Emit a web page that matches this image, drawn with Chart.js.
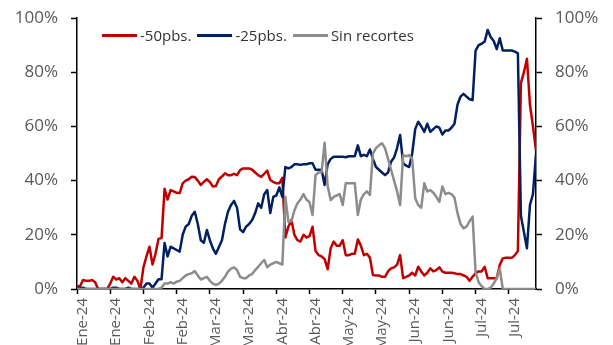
<!DOCTYPE html>
<html>
<head>
<meta charset="utf-8">
<script src="https://cdn.jsdelivr.net/npm/chart.js@4.4.1/dist/chart.umd.min.js"></script>
<style>
    html, body { margin: 0; padding: 0; background: #fff; overflow: hidden; }
    #wrap { position: relative; width: 613px; height: 345px; }
    #legend {
        position: absolute; left: 102px; top: 25px;
        display: flex; align-items: center;
        font-family: 'Open Sans', sans-serif; font-size: 15px; color: #333;
    }
    .item { display: flex; align-items: center; margin-right: 6px; }
    .key { display: inline-block; width: 35px; height: 3px; margin-right: 3px; }
</style>
</head>
<body>
<div id="wrap">
    <canvas id="chart" width="613" height="345"></canvas>
    <div id="legend"></div>
</div>
<script>
// one point per business day, Jan-Jul 2024; a tick every 11 points
const tickStep = 11;
const tickLabels = ['Ene-24', 'Ene-24', 'Feb-24', 'Feb-24', 'Mar-24', 'Mar-24', 'Abr-24',
    'Abr-24', 'May-24', 'May-24', 'Jun-24', 'Jun-24', 'Jul-24', 'Jul-24'];

const seriesNames = ['-50pbs.', '-25pbs.', 'Sin recortes'];
const seriesColors = ['#c00000', '#002060', '#8c8c8c'];

const cut50 = [
    1, 1, 3.3, 3, 3, 3.3, 2.5, 0, 0, 0,
    0, 2, 4.5, 3.5, 4, 2.5, 4, 3, 2, 4.5,
    3, 0, 8, 12, 15.6, 9, 13, 18.5, 18.8, 37,
    33, 36.5, 36, 35.5, 35.4, 39, 40, 40.5, 41.4, 41.3,
    40, 38.4, 39.5, 40.5, 39.5, 37.8, 38, 40.5, 41.5, 42.7,
    42, 42, 42.5, 42, 43.9, 44.5, 44.5, 44.5, 44, 43,
    42, 41.4, 42.5, 43.7, 40.2, 39.5, 39, 39, 41, 19,
    23, 25.5, 20, 18, 17.5, 20, 19, 19.5, 23, 14,
    12.5, 12, 11, 7.3, 15, 17.5, 16, 16, 18, 12.5,
    12.5, 13, 13, 18.3, 16, 12.5, 13, 11.5, 5.2, 5,
    5, 4.5, 4.5, 6.5, 7.6, 8, 9, 12.5, 4, 4.5,
    5, 6, 5, 8.2, 6.5, 5, 6, 7.6, 6.5, 7,
    8, 6.4, 6, 6, 6, 5.8, 5.5, 5.5, 5, 4.5,
    3, 4.5, 5.8, 6.5, 6.5, 8.2, 4, 4, 4, 4,
    8.9, 11.3, 11.5, 11.5, 11.5, 12.5, 14, 76, 80, 85,
    68, 60, 51
];

const cut25 = [
    0, 0.5, 0.5, 0, 0, 0, 0, 0, 0, 0,
    0, 0, 0.5, 0.5, 0, 0, 0, 0.5, 0, 0,
    0, 0, 0.5, 2, 2, 0.5, 2, 3.6, 3.6, 17,
    12, 15.6, 15, 14.4, 13.8, 20, 23, 24, 27, 28.5,
    24, 18, 17, 21.8, 18, 15, 13, 15.5, 18, 24,
    28.5, 31, 32.5, 30, 22, 21, 23, 24, 25.5, 28,
    31.6, 30, 35, 36.5, 28, 34, 34.5, 37.5, 34, 45,
    44.5, 45, 46, 46, 45.8, 46, 46, 46.4, 46.4, 44,
    44, 44, 38.4, 46, 48, 48.8, 48.8, 48.8, 48.8, 48.6,
    49, 49, 49, 53, 49, 49.5, 49, 51.5, 48, 45,
    44, 43, 42, 43, 47, 48.5, 52, 56.8, 46.4, 45.5,
    45, 50, 59, 61.7, 60, 58, 61, 58, 59, 60,
    59.5, 57, 58.5, 58.5, 59.5, 61, 68, 71, 72, 71,
    70, 69.7, 88, 90, 90.5, 91.3, 95.6, 93, 91.5, 88.5,
    92.5, 88, 88, 88, 88, 87.6, 87, 27, 21, 15,
    31, 35, 50
];

const noCut = [
    0, 0, 0, 0, 0, 0, 0, 0, 0, 0,
    0, 0, 0, 0, 0, 0, 0, 0, 0, 0,
    0, 0, 0, 0, 0, 0, 0, 0, 0.5, 2,
    2, 2.5, 2, 2.7, 3, 4, 5, 5.5, 5.8, 6.6,
    5, 3.5, 4, 4.5, 3, 2, 1.5, 2, 3, 4.5,
    6.4, 7.5, 8, 7, 4.5, 4, 4, 5, 5.5, 7,
    8.2, 9.5, 10.7, 8, 9, 9.5, 10, 9.5, 9, 34,
    24.8, 25, 29, 31.6, 33, 35, 33, 32, 27.3, 42,
    43, 43, 54, 38, 32.8, 34, 34.5, 35, 31, 39,
    39, 39, 39, 27.3, 33, 35, 36, 34.7, 50, 52,
    53, 53.8, 52, 48, 44, 40, 36, 31, 49.4, 49,
    49.4, 48, 33.5, 31, 30, 39, 36, 36.5, 35.5, 34,
    32.2, 37.8, 35, 35.5, 35, 33.7, 28, 24, 22.4, 23,
    25, 26.7, 6, 2.5, 1, 0, 0, 0.5, 2, 4,
    7.6, 0, 0, 0, 0, 0, 0, 0, 0, 0,
    0, 0, 0
];

const yTicks = [0, 20, 40, 60, 80, 100];

const toPoints = arr => arr.map((v, i) => ({ x: i, y: v }));

Chart.defaults.font.family = "'Open Sans', sans-serif";
Chart.defaults.font.size = 17;
Chart.defaults.color = '#595959';

const axisGrid = len => ({
    drawOnChartArea: false,
    drawTicks: true,
    tickLength: len,
    tickColor: '#000',
    tickWidth: 1.5
});
const axisBorder = { display: true, color: '#000', width: 1.5 };

const yAxis = side => ({
    position: side,
    min: 0,
    max: 100,
    afterBuildTicks: s => { s.ticks = yTicks.map(v => ({ value: v })); },
    ticks: { callback: v => v + '%', padding: 13 },
    grid: axisGrid(6),
    border: axisBorder,
    afterFit: s => {
        s.width = 77;
        // label padding would otherwise push the plot top down
        s.paddingTop = 0;
        s.paddingBottom = 0;
    }
});

const allSeries = [cut50, cut25, noCut];

new Chart(document.getElementById('chart'), {
    type: 'line',
    data: {
        datasets: allSeries.map((arr, k) => ({
            label: seriesNames[k],
            data: toPoints(arr),
            borderColor: seriesColors[k],
            backgroundColor: seriesColors[k],
            borderWidth: 2.5,
            pointRadius: 0,
            tension: 0,
            borderJoinStyle: 'round',
            yAxisID: 'y',
            order: 2 - k
        }))
    },
    options: {
        responsive: false,
        animation: false,
        layout: { padding: { top: 18, left: 0, right: 0, bottom: 0 } },
        plugins: {
            legend: { display: false },
            tooltip: { enabled: false }
        },
        scales: {
            x: {
                type: 'linear',
                min: 0,
                max: cut50.length - 1,
                afterBuildTicks: s => {
                    s.ticks = tickLabels.map((t, k) => ({ value: k * tickStep }));
                },
                ticks: {
                    callback: (v, i) => tickLabels[i],
                    minRotation: 90,
                    maxRotation: 90,
                    autoSkip: false,
                    padding: 4,
                    labelOffset: 6,
                    font: { size: 15 }
                },
                grid: axisGrid(5),
                border: axisBorder,
                afterFit: s => { s.height = 56; }
            },
            y: yAxis('left'),
            y2: yAxis('right')
        }
    }
});

// legend as plain html over the plot
const legend = document.getElementById('legend');
seriesNames.forEach((name, k) => {
    const item = document.createElement('span');
    item.className = 'item';
    item.innerHTML = '<span class="key" style="background:' + seriesColors[k] + '"></span>' + name;
    legend.appendChild(item);
});
</script>
</body>
</html>
